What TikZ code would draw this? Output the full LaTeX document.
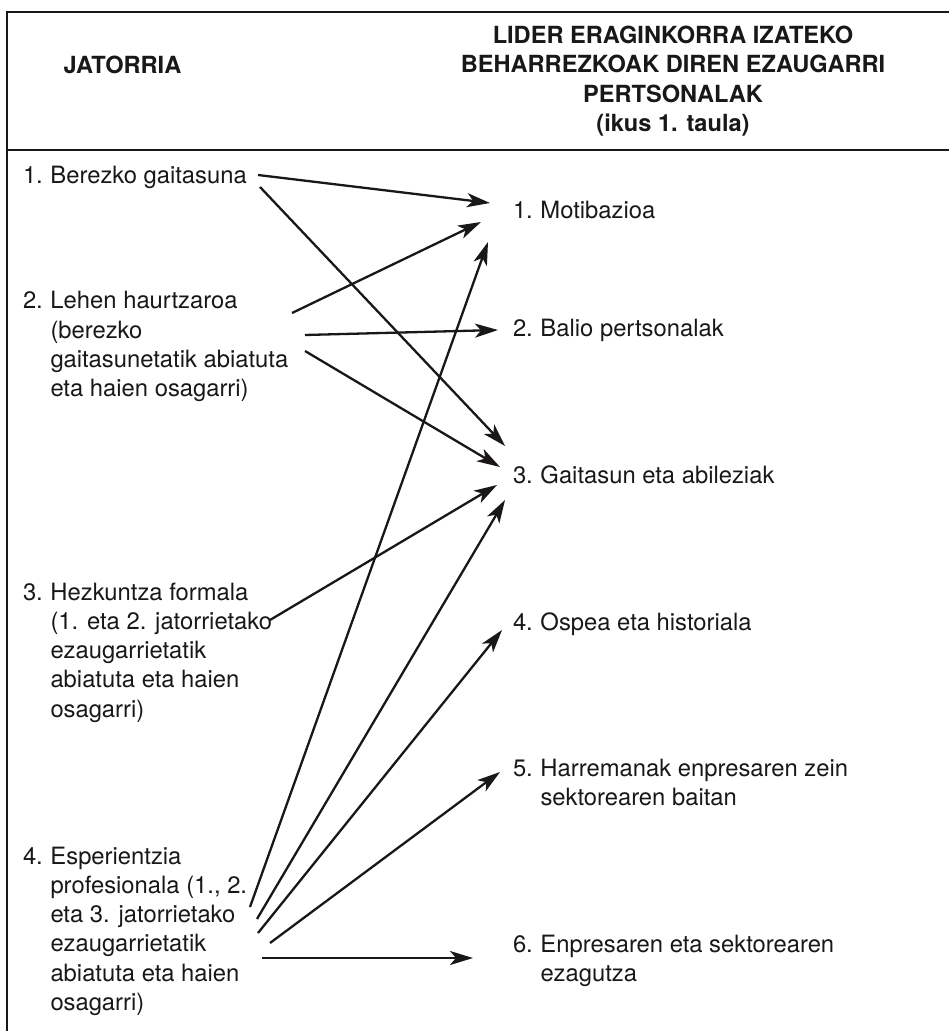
\documentclass[tikz,border=0pt]{standalone}
\usepackage{fontspec}
\setmainfont{TeX Gyre Heros}
\usetikzlibrary{arrows.meta}
\definecolor{ink}{HTML}{1A1718}
\newcommand\itemtext[2]{\begin{tabular}[t]{@{}p{13.75pt}@{}l@{}}#1&#2\end{tabular}}
\begin{document}
\begin{tikzpicture}[x=0.5pt,y=-0.5pt,
  every node/.style={inner sep=0pt, outer sep=0pt, text=ink, font=\fontsize{11.9pt}{14.65pt}\selectfont},
  hdr/.style={font=\fontsize{11.8pt}{14.75pt}\selectfont\bfseries, anchor=base},
  itm/.style={anchor=base west},
  conn/.style={draw=ink, line width=1.15pt, -{Stealth[length=11.5pt,width=7pt,inset=3pt]}},
  frame/.style={draw=ink, line width=0.7pt},
  sep/.style={draw=ink, line width=1.2pt}]
\useasboundingbox (0,0) rectangle (949,1031);
\fill[white] (0,0) rectangle (949,1031);
% frame
\draw[frame] (949,12) -- (7,12) -- (7,1031);
\draw[sep] (7,150) -- (949,150);
% header
\node[hdr] (hl) at (122.5,73.5) {JATORRIA};
\node[hdr] (hr) at (673,43.5) {\begin{tabular}[t]{@{}c@{}}LIDER ERAGINKORRA IZATEKO\\BEHARREZKOAK DIREN EZAUGARRI\\PERTSONALAK\\(ikus 1. taula)\end{tabular}};
% origins
\node[itm] (o1) at (23,184) {\itemtext{1.}{Berezko gaitasuna}};
\node[itm] (o2) at (23,309) {\itemtext{2.}{Lehen haurtzaroa\\&(berezko\\&gaitasunetatik abiatuta\\&eta haien osagarri)}};
\node[itm] (o3) at (23,600) {\itemtext{3.}{Hezkuntza formala\\&(1. eta 2. jatorrietako\\&ezaugarrietatik\\&abiatuta eta haien\\&osagarri)}};
\node[itm] (o4) at (23,864) {\itemtext{4.}{Esperientzia\\&profesionala (1., 2.\\&eta 3. jatorrietako\\&ezaugarrietatik\\&abiatuta eta haien\\&osagarri)}};
% characteristics
\node[itm] (c1) at (513,219) {\itemtext{1.}{Motibazioa}};
\node[itm] (c2) at (513,337) {\itemtext{2.}{Balio pertsonalak}};
\node[itm] (c3) at (513,483) {\itemtext{3.}{Gaitasun eta abileziak}};
\node[itm] (c4) at (513,630) {\itemtext{4.}{Ospea eta historiala}};
\node[itm] (c5) at (513,776) {\itemtext{5.}{Harremanak enpresaren zein\\&sektorearen baitan}};
\node[itm] (c6) at (513,952) {\itemtext{6.}{Enpresaren eta sektorearen\\&ezagutza}};
% connector ends
\coordinate (o1a) at (258,175); \coordinate (c1a) at (490,203);
\coordinate (o1b) at (260,187); \coordinate (c3a) at (505,446);
\coordinate (o2a) at (292,313); \coordinate (c1b) at (481,222);
\coordinate (o2b) at (305,335); \coordinate (c2a) at (498,330);
\coordinate (o2c) at (305,351); \coordinate (c3b) at (500,467);
\coordinate (o3a) at (270,620); \coordinate (c3c) at (497,485);
\coordinate (o4a) at (250,907); \coordinate (c1c) at (488,242);
\coordinate (o4b) at (257,919); \coordinate (c3d) at (505,500);
\coordinate (o4c) at (258,933); \coordinate (c4a) at (502,630);
\coordinate (o4d) at (270,943); \coordinate (c5a) at (500,772);
\coordinate (o4e) at (262,958); \coordinate (c6a) at (473,958);
% connectors
\draw[conn] (o1a) -- (c1a);
\draw[conn] (o1b) -- (c3a);
\draw[conn] (o2a) -- (c1b);
\draw[conn] (o2b) -- (c2a);
\draw[conn] (o2c) -- (c3b);
\draw[conn] (o3a) -- (c3c);
\draw[conn] (o4a) -- (c1c);
\draw[conn] (o4b) -- (c3d);
\draw[conn] (o4c) -- (c4a);
\draw[conn] (o4d) -- (c5a);
\draw[conn] (o4e) -- (c6a);
\end{tikzpicture}
\end{document}
